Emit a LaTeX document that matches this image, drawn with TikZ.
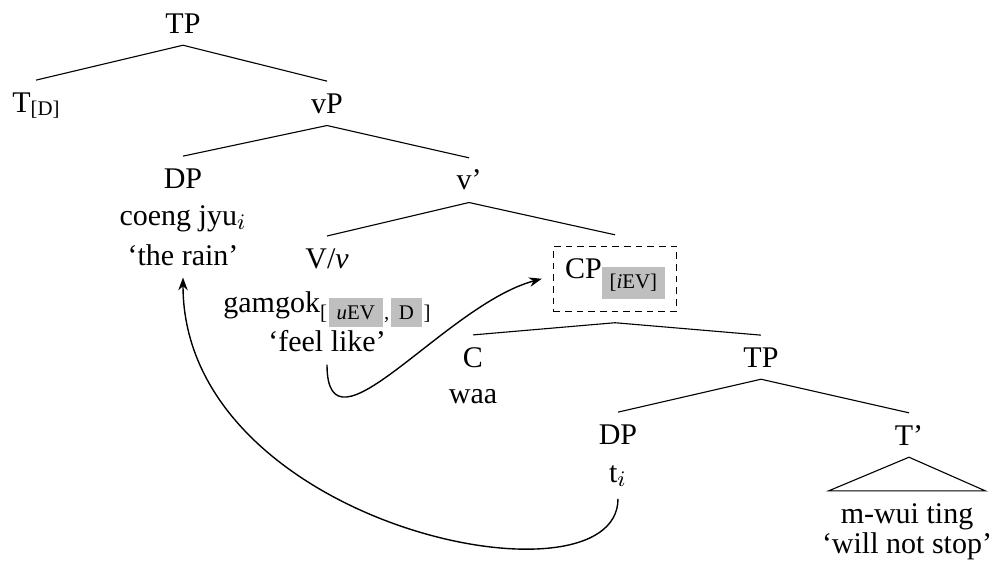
\documentclass[tikz,border=0pt]{standalone}
\usepackage{fontspec}
\setmainfont{Liberation Serif}
\usepackage{tikz}
\usetikzlibrary{arrows.meta}

\definecolor{featgray}{gray}{0.75}
\newcommand{\featfont}{\fontsize{7.5}{9}\selectfont}
\newcommand{\featbox}[1]{{\setlength{\fboxsep}{2.8pt}\colorbox{featgray}{#1}}}

\tikzset{
  lbl/.style={anchor=base, inner sep=4.2pt},
  mvarrow/.style={-{Stealth[length=4.6pt,width=3.4pt]}, line width=0.5pt},
}

\begin{document}
\begin{tikzpicture}[x=0.36pt,y=-0.36pt,font=\fontsize{10.8}{13}\selectfont]
\useasboundingbox (0,0) rectangle (992,565);
% upper TP
\node[lbl] (tp) at (183,33) {TP};
\node[lbl] (tD) at (36,112) {T\raisebox{-1.4pt}{\featfont[D]}};
\node[lbl] (vp) at (327,113) {vP};
\draw (tp.south) -- (tD.north);
\draw (tp.south) -- (vp.north);
% subject
\node[lbl] (dp) at (183,188) {DP};
\node[lbl] (coeng) at (183,225) {coeng jyu$_i$};
\node[lbl] (rain) at (183,265) {`the rain'};
\node[lbl] (vbar) at (469,190) {v'};
\draw (vp.south) -- (dp.north);
\draw (vp.south) -- (vbar.north);
% verb
\node[lbl] (vnu) at (327,268) {V/\textit{v}};
\node[lbl] (gamgok) at (327,312) {gamgok\raisebox{-2.6pt}{\featfont[\kern0.7pt\featbox{\textit{u}EV}\kern0.5pt,\kern0.7pt\featbox{D}\kern0.7pt]}};
\node[lbl] (feel) at (327,352) {`feel like'};
% CP
\node[lbl, draw, dash pattern=on 2.4pt off 1.8pt, outer sep=4.2pt] (cp) at (615,278)
  {CP\raisebox{-3.9pt}{\featfont\featbox{[\textit{i}EV]}}};
\draw (vbar.south) -- (vnu.north);
\draw (vbar.south) -- (cp.north);
\node[lbl] (c) at (473,367) {C};
\node[lbl] (waa) at (473,403) {waa};
\node[lbl] (tp2) at (761,367) {TP};
\draw (cp.south) -- (c.north);
\draw (cp.south) -- (tp2.north);
% lower TP
\node[lbl] (dp2) at (618,444) {DP};
\node[lbl] (ti) at (618,482) {t$_i$};
\node[lbl] (tbar) at (909,445) {T'};
\draw (tp2.south) -- (dp2.north);
\draw (tp2.south) -- (tbar.north);
\node[lbl] (mwui) at (907,523) {m-wui ting};
\node[lbl] (stop) at (907,553) {`will not stop'};
\draw (tbar.south) -- (mwui.north west) -- (mwui.north east) -- cycle;
% movement
\draw[mvarrow] (feel.south) .. controls +(0,100) and +(-97,26) .. (cp.west);
\draw[mvarrow] (ti.south) .. controls +(0,115) and +(0,250) .. (rain.south);
\end{tikzpicture}
\end{document}
